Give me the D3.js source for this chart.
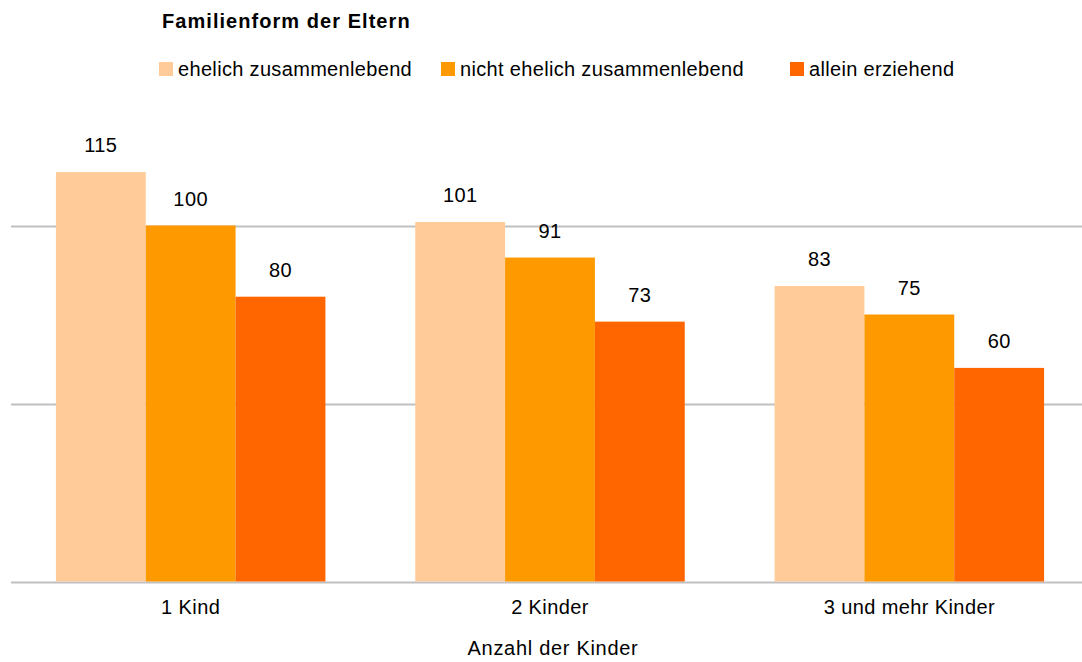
<!DOCTYPE html>
<html>
<head>
<meta charset="utf-8">
<script src="https://cdn.jsdelivr.net/npm/d3@7"></script>
<style>
  body { margin: 0; background: #fff; }
  text { font-family: "Liberation Sans", Arial, sans-serif; fill: #000; }
</style>
</head>
<body>
<div id="chart"></div>
<script>
// data
var categories = ['1 Kind', '2 Kinder', '3 und mehr Kinder'];
var seriesNames = ['ehelich zusammenlebend', 'nicht ehelich zusammenlebend', 'allein erziehend'];
var ehelich = [115, 101, 83];
var nichtEhelich = [100, 91, 75];
var allein = [80, 73, 60];
var gridTicks = [0, 50, 100];

var colors = ['#FFCC99', '#FF9900', '#FF6600'];
var series = [ehelich, nichtEhelich, allein];

var width = 1082, height = 662;
var left = 11, right = 1089, baseY = 581.5, top100 = 225.5;

var svg = d3.select('#chart')
  .append('svg')
  .attr('width', width)
  .attr('height', height);

var y = d3.scaleLinear()
  .domain([0, 100])
  .range([baseY, top100]);

var x0 = d3.scaleBand()
  .domain(categories)
  .range([left, right])
  .paddingInner(0.25)
  .paddingOuter(0.125);

var x1 = d3.scaleBand()
  .domain(d3.range(seriesNames.length))
  .range([0, x0.bandwidth()]);

// gridlines
svg.append('g')
  .selectAll('line')
  .data(gridTicks)
  .enter()
  .append('line')
  .attr('x1', left)
  .attr('x2', width)
  .attr('y1', d => Math.round(y(d)) + 0.5)
  .attr('y2', d => Math.round(y(d)) + 0.5)
  .style('stroke', '#c0c0c0')
  .style('stroke-width', 2);

// bars
var groups = svg.selectAll('g.cat')
  .data(categories)
  .enter()
  .append('g')
  .attr('transform', d => 'translate(' + x0(d) + ',0)');

groups.each(function(cat, ci) {
  var g = d3.select(this);
  series.forEach(function(s, si) {
    g.append('rect')
      .attr('x', x1(si))
      .attr('y', y(s[ci]))
      .attr('width', x1.bandwidth())
      .attr('height', baseY - y(s[ci]))
      .style('fill', colors[si]);
    g.append('text')
      .attr('x', x1(si) + x1.bandwidth() / 2)
      .attr('y', y(s[ci]) - 20)
      .attr('text-anchor', 'middle')
      .style('font-size', '20px')
      .style('letter-spacing', '0.4px')
      .text(s[ci]);
  });
});

// category labels
svg.append('g')
  .selectAll('text')
  .data(categories)
  .enter()
  .append('text')
  .attr('x', d => x0(d) + x0.bandwidth() / 2)
  .attr('y', 614)
  .attr('text-anchor', 'middle')
  .style('font-size', '20px')
  .style('letter-spacing', '0.4px')
  .text(d => d);

svg.append('text')
  .attr('x', 553)
  .attr('y', 655)
  .attr('text-anchor', 'middle')
  .style('font-size', '20px')
  .style('letter-spacing', '0.7px')
  .text('Anzahl der Kinder');

// title + legend
svg.append('text')
  .attr('x', 162)
  .attr('y', 28)
  .style('font-size', '20px')
  .style('font-weight', 'bold')
  .style('letter-spacing', '1.05px')
  .text('Familienform der Eltern');

var legendX = [159, 441, 790];
var legend = svg.selectAll('g.legend')
  .data(seriesNames)
  .enter()
  .append('g')
  .attr('transform', (d, i) => 'translate(' + legendX[i] + ',62)');

legend.append('rect')
  .attr('width', 14)
  .attr('height', 14)
  .style('fill', (d, i) => colors[i]);

legend.append('text')
  .attr('x', 19)
  .attr('y', 14)
  .style('font-size', '20px')
  .style('letter-spacing', '0.33px')
  .text(d => d);
</script>
</body>
</html>
